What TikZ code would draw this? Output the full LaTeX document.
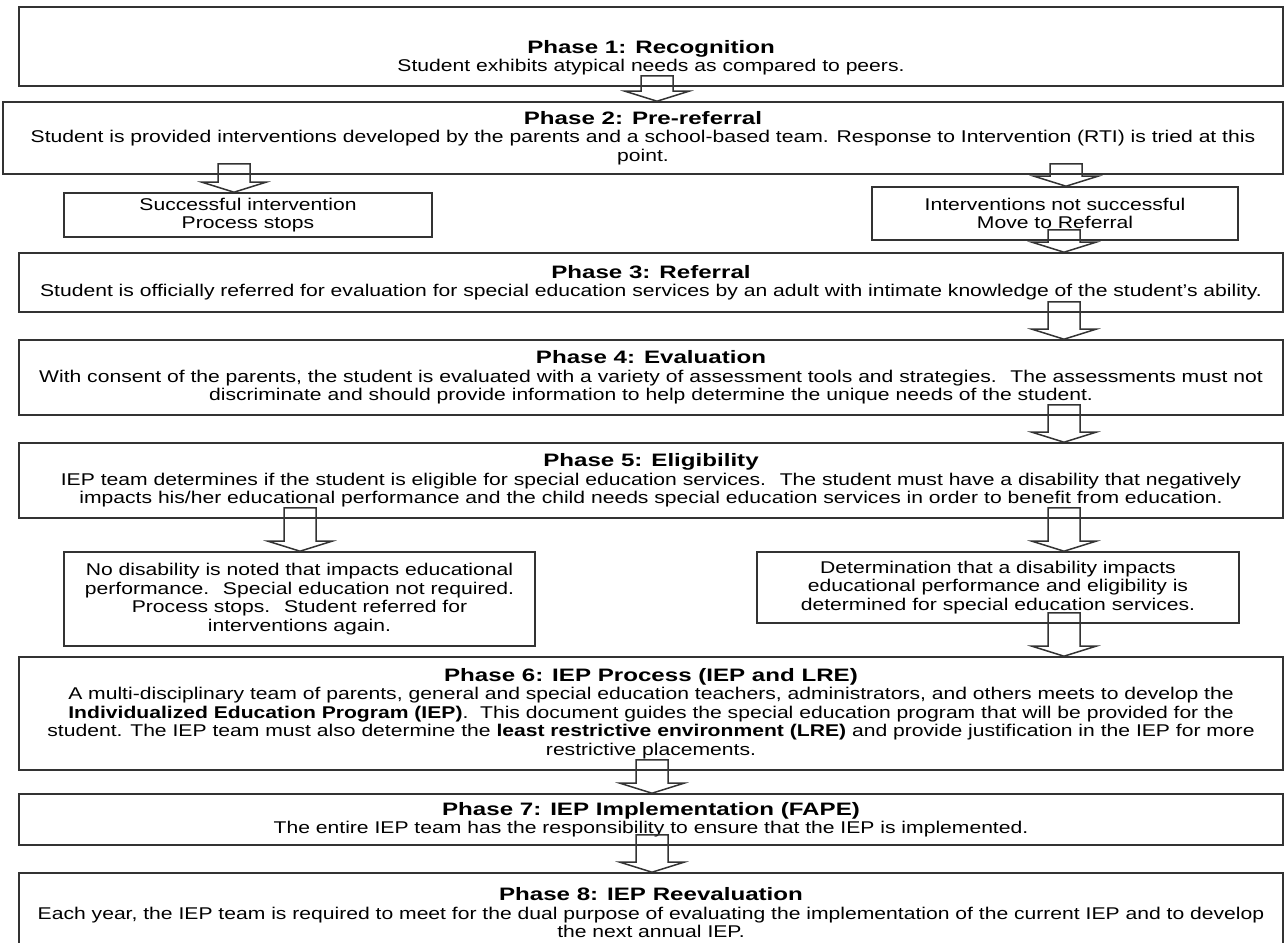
\documentclass[tikz,border=0pt]{standalone}
\usepackage{fontspec}
\setmainfont{Liberation Sans}[FakeStretch=1.242]
\newfontfamily\titlefont{Liberation Sans}[FakeStretch=1.34]
\usetikzlibrary{positioning,calc}

\definecolor{edgegray}{HTML}{333333}

\tikzset{
    phasebox/.style={draw=edgegray, line width=1.6pt, align=center, inner sep=0pt,
        minimum width=1264pt, font=\fontsize{17}{18.5}\selectfont},
    notebox/.style={draw=edgegray, line width=1.6pt, align=center, inner sep=0pt,
        font=\fontsize{17}{18.5}\selectfont},
    blockarrow/.style={draw=edgegray, line width=1.5pt, line join=miter},
}
\newcommand{\phasetitle}[1]{{\titlefont\fontsize{18}{19}\selectfont\bfseries #1}}
% hollow down arrow: upper node, lower node, x position
\newcommand{\blockarr}[3]{%
    \path (#3,0) coordinate (ax);
    \path (#1.south -| ax) coordinate (as) (#2.north -| ax) coordinate (at);
    \draw[blockarrow] ($(as)+(-16,-11)$) -- ($(at)+(-16,-10)$) -- ($(at)+(-32,-10)$) -- (at)
        -- ($(at)+(32,-10)$) -- ($(at)+(16,-10)$) -- ($(as)+(16,-11)$) -- cycle;
}

\begin{document}
\begin{tikzpicture}[x=1pt, y=-1pt]
    \useasboundingbox (0,0) rectangle (1286,943);

    % Phase 1
    \node[phasebox, minimum height=79pt] (p1) at (651,46.5) {};
    \node[align=center, font=\fontsize{17}{18.5}\selectfont] (p1txt) at (651,57.5)
        {\phasetitle{Phase 1: Recognition}\\ Student exhibits atypical needs as compared to peers.};

    % Phase 2
    \node[phasebox, minimum width=1280pt, minimum height=72pt] (p2) at (643,138)
        {\phasetitle{Phase 2: Pre-referral}\\ Student is provided interventions developed by the parents and a school-based team. Response to Intervention (RTI) is tried at this\\ point.};

    % Outcomes of pre-referral
    \node[notebox, minimum width=368pt, minimum height=44pt] (succ) at (248,215)
        {Successful intervention\\ Process stops};
    \node[notebox, minimum width=366pt, minimum height=53pt] (notsucc) at (1055,213.5)
        {Interventions not successful\\ Move to Referral};

    % Phase 3
    \node[phasebox, minimum height=59pt] (p3) at (651,282.5)
        {\phasetitle{Phase 3: Referral}\\ Student is officially referred for evaluation for special education services by an adult with intimate knowledge of the student's ability.};

    % Phase 4
    \node[phasebox, minimum height=75pt] (p4) at (651,377.5)
        {\phasetitle{Phase 4: Evaluation}\\ With consent of the parents, the student is evaluated with a variety of assessment tools and strategies.~ The assessments must not\\ discriminate and should provide information to help determine the unique needs of the student.};

    % Phase 5
    \node[phasebox, minimum height=75pt] (p5) at (651,480.5)
        {\phasetitle{Phase 5: Eligibility}\\ IEP team determines if the student is eligible for special education services.~ The student must have a disability that negatively\\ impacts his/her educational performance and the child needs special education services in order to benefit from education.};

    % Outcomes of eligibility
    \node[notebox, minimum width=471pt, minimum height=94pt] (noelig) at (299.5,599)
        {No disability is noted that impacts educational\\ performance.~ Special education not required.\\ Process stops.~ Student referred for\\ interventions again.};
    \node[notebox, minimum width=482pt, minimum height=71pt] (elig) at (998,587.5)
        {Determination that a disability impacts\\ educational performance and eligibility is\\ determined for special education services.};

    % Phase 6
    \node[phasebox, minimum height=113pt] (p6) at (651,713.5)
        {\phasetitle{Phase 6: IEP Process (IEP and LRE)}\\ A multi-disciplinary team of parents, general and special education teachers, administrators, and others meets to develop the\\ \textbf{Individualized Education Program (IEP)}.~ This document guides the special education program that will be provided for the\\ student. The IEP team must also determine the \textbf{least restrictive environment (LRE)} and provide justification in the IEP for more\\ restrictive placements.};

    % Phase 7
    \node[phasebox, minimum height=51pt] (p7) at (651,819.5)
        {\phasetitle{Phase 7: IEP Implementation (FAPE)}\\ The entire IEP team has the responsibility to ensure that the IEP is implemented.};

    % Phase 8
    \node[phasebox, minimum height=80pt] (p8) at (651,913)
        {\phasetitle{Phase 8: IEP Reevaluation}\\ Each year, the IEP team is required to meet for the dual purpose of evaluating the implementation of the current IEP and to develop\\ the next annual IEP.};

    % Arrows
    \blockarr{p1}{p2}{657}
    \blockarr{p2}{succ}{234}
    \blockarr{p2}{notsucc}{1066}
    \blockarr{notsucc}{p3}{1064}
    \blockarr{p3}{p4}{1064}
    \blockarr{p4}{p5}{1064}
    \blockarr{p5}{noelig}{300}
    \blockarr{p5}{elig}{1064}
    \blockarr{elig}{p6}{1064}
    \blockarr{p6}{p7}{652}
    \blockarr{p7}{p8}{652}
\end{tikzpicture}
\end{document}
